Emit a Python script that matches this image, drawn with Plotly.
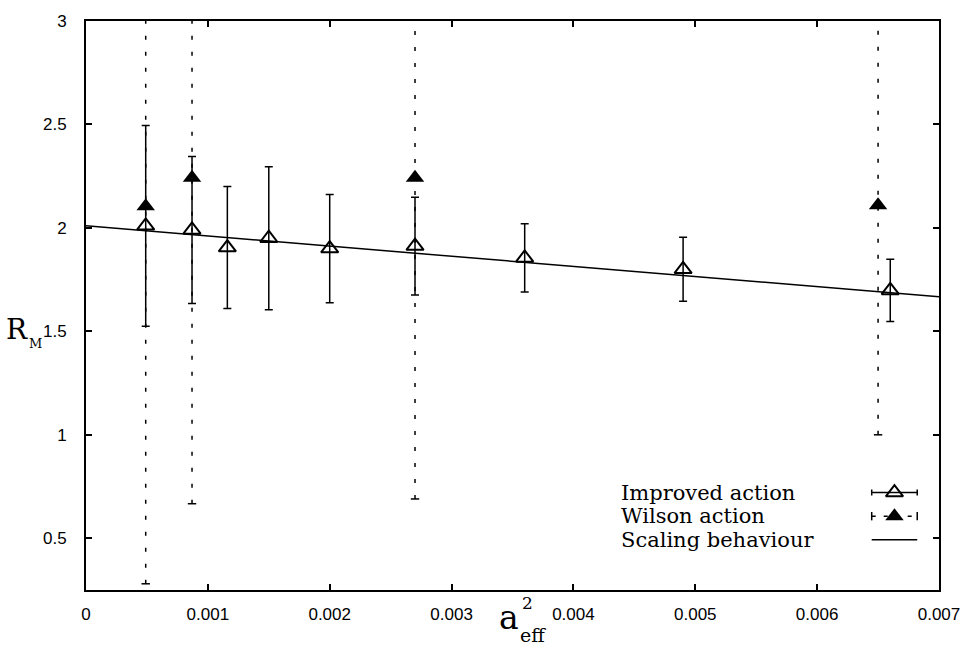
import plotly.graph_objects as go

# ---- data ----
imp_x = [0.00049, 0.00087, 0.00116, 0.00150, 0.00200, 0.00270, 0.00360, 0.00490, 0.00660]
imp_y = [2.01, 1.99, 1.905, 1.95, 1.90, 1.912, 1.855, 1.80, 1.698]
imp_err = [0.485, 0.355, 0.295, 0.345, 0.262, 0.236, 0.165, 0.155, 0.15]

wil_x = [0.00049, 0.00087, 0.00270, 0.00650]
wil_y = [2.105, 2.243, 2.243, 2.11]
wil_err = [1.825, 1.576, 1.553, 1.11]

fit_x = [0.0, 0.007]
fit_y = [2.01, 1.667]

x_ticks = [0, 0.001, 0.002, 0.003, 0.004, 0.005, 0.006, 0.007]
x_ticktext = ["0", "0.001", "0.002", "0.003", "0.004", "0.005", "0.006", "0.007"]
y_ticks = [0.5, 1, 1.5, 2, 2.5, 3]
y_ticktext = ["0.5", "1", "1.5", "2", "2.5", "3"]

legend_labels = ["Improved action", "Wilson action", "Scaling behaviour"]

SERIF = "DejaVu Serif, serif"
SANS = "Liberation Sans, Arial, sans-serif"

L, R, T, B = 86, 948, 12, 590


def px(x):
    return (x - L) / (R - L)


def py(y):
    return (B - y) / (B - T)


fig = go.Figure()

# scaling line
fig.add_trace(go.Scatter(x=fit_x, y=fit_y, mode="lines",
                         line=dict(color="black", width=1.5), showlegend=False))

# Wilson dashed error bars
wx, wy = [], []
for x, y, e in zip(wil_x, wil_y, wil_err):
    wx += [x, x, None]
    wy += [y - e, y + e, None]
fig.add_trace(go.Scatter(x=wx, y=wy, mode="lines",
                         line=dict(color="black", width=1.5, dash="4px,12px"),
                         showlegend=False))
# Wilson caps
cx, cy = [], []
for x, y, e in zip(wil_x, wil_y, wil_err):
    cx += [x, x]
    cy += [y - e, y + e]
fig.add_trace(go.Scatter(x=cx, y=cy, mode="markers",
                         marker=dict(symbol="line-ew", size=6,
                                     line=dict(color="black", width=1.5)),
                         showlegend=False))

# Improved action
fig.add_trace(go.Scatter(x=imp_x, y=imp_y, mode="markers",
                         marker=dict(symbol="triangle-up-open", size=15, color="black",
                                     line=dict(color="black", width=2)),
                         error_y=dict(type="data", array=imp_err, visible=True,
                                      color="black", thickness=1.5, width=4),
                         showlegend=False))

# Wilson markers
fig.add_trace(go.Scatter(x=wil_x, y=wil_y, mode="markers",
                         marker=dict(symbol="triangle-up", size=16, color="black"),
                         showlegend=False))

# ---- legend (pixel overlay axes) ----
leg_y = [491, 515, 539]
sx0, sx1, smid = 880, 926, 903
fig.add_trace(go.Scatter(x=[smid], y=[leg_y[0]], xaxis="x2", yaxis="y2", mode="markers",
                         marker=dict(symbol="triangle-up-open", size=15, color="black",
                                     line=dict(color="black", width=2)),
                         error_x=dict(type="data", array=[(sx1 - sx0) / 2], visible=True,
                                      color="black", thickness=1.5, width=3),
                         showlegend=False))
fig.add_trace(go.Scatter(x=[sx0, sx1], y=[leg_y[1], leg_y[1]], xaxis="x2", yaxis="y2",
                         mode="lines", line=dict(color="black", width=1.5, dash="4px,8px"),
                         showlegend=False))
fig.add_trace(go.Scatter(x=[sx0, sx1], y=[leg_y[1], leg_y[1]], xaxis="x2", yaxis="y2",
                         mode="markers", marker=dict(symbol="line-ns", size=6,
                                                     line=dict(color="black", width=1.5)),
                         showlegend=False))
fig.add_trace(go.Scatter(x=[smid], y=[leg_y[1]], xaxis="x2", yaxis="y2", mode="markers",
                         marker=dict(symbol="triangle-up", size=16, color="black"),
                         showlegend=False))
fig.add_trace(go.Scatter(x=[sx0, sx1], y=[leg_y[2], leg_y[2]], xaxis="x2", yaxis="y2",
                         mode="lines", line=dict(color="black", width=1.5),
                         showlegend=False))

annotations = []
for lab, yy in zip(legend_labels, leg_y):
    annotations.append(dict(x=px(625), y=py(yy), xref="paper", yref="paper", text=lab,
                            showarrow=False, xanchor="left", yanchor="middle",
                            font=dict(family=SERIF, size=21, color="black")))

# axis titles
annotations.append(dict(x=px(16), y=py(325), xref="paper", yref="paper", text="R",
                        showarrow=False, xanchor="center", yanchor="middle",
                        font=dict(family=SERIF, size=28, color="black")))
annotations.append(dict(x=px(26), y=py(340), xref="paper", yref="paper", text="M",
                        showarrow=False, xanchor="left", yanchor="middle",
                        font=dict(family=SERIF, size=13, color="black")))
annotations.append(dict(x=px(513), y=py(618), xref="paper", yref="paper", text="a",
                        showarrow=False, xanchor="center", yanchor="middle",
                        font=dict(family=SERIF, size=33, color="black")))
annotations.append(dict(x=px(525), y=py(603), xref="paper", yref="paper", text="2",
                        showarrow=False, xanchor="left", yanchor="middle",
                        font=dict(family=SERIF, size=17, color="black")))
annotations.append(dict(x=px(523), y=py(636), xref="paper", yref="paper", text="eff",
                        showarrow=False, xanchor="left", yanchor="middle",
                        font=dict(family=SERIF, size=19, color="black")))

axis_common = dict(showgrid=False, zeroline=False, ticks="inside", ticklen=6, tickwidth=2,
                   tickcolor="black", showline=True, linecolor="black", linewidth=2,
                   mirror="allticks", tickfont=dict(family=SANS, size=17, color="black"))

fig.update_layout(
    width=972, height=653,
    margin=dict(l=L, r=972 - R, t=T, b=653 - B),
    paper_bgcolor="white", plot_bgcolor="white",
    xaxis=dict(range=[0, 0.007], tickvals=x_ticks, ticktext=x_ticktext,
               ticklabelstandoff=8, **axis_common),
    yaxis=dict(range=[0.25, 3], tickvals=y_ticks, ticktext=y_ticktext,
               ticklabelstandoff=14, **axis_common),
    xaxis2=dict(range=[L, R], overlaying="x", visible=False, fixedrange=True),
    yaxis2=dict(range=[B, T], overlaying="y", visible=False, fixedrange=True),
    annotations=annotations,
    showlegend=False,
)

fig.write_html("out.html")
